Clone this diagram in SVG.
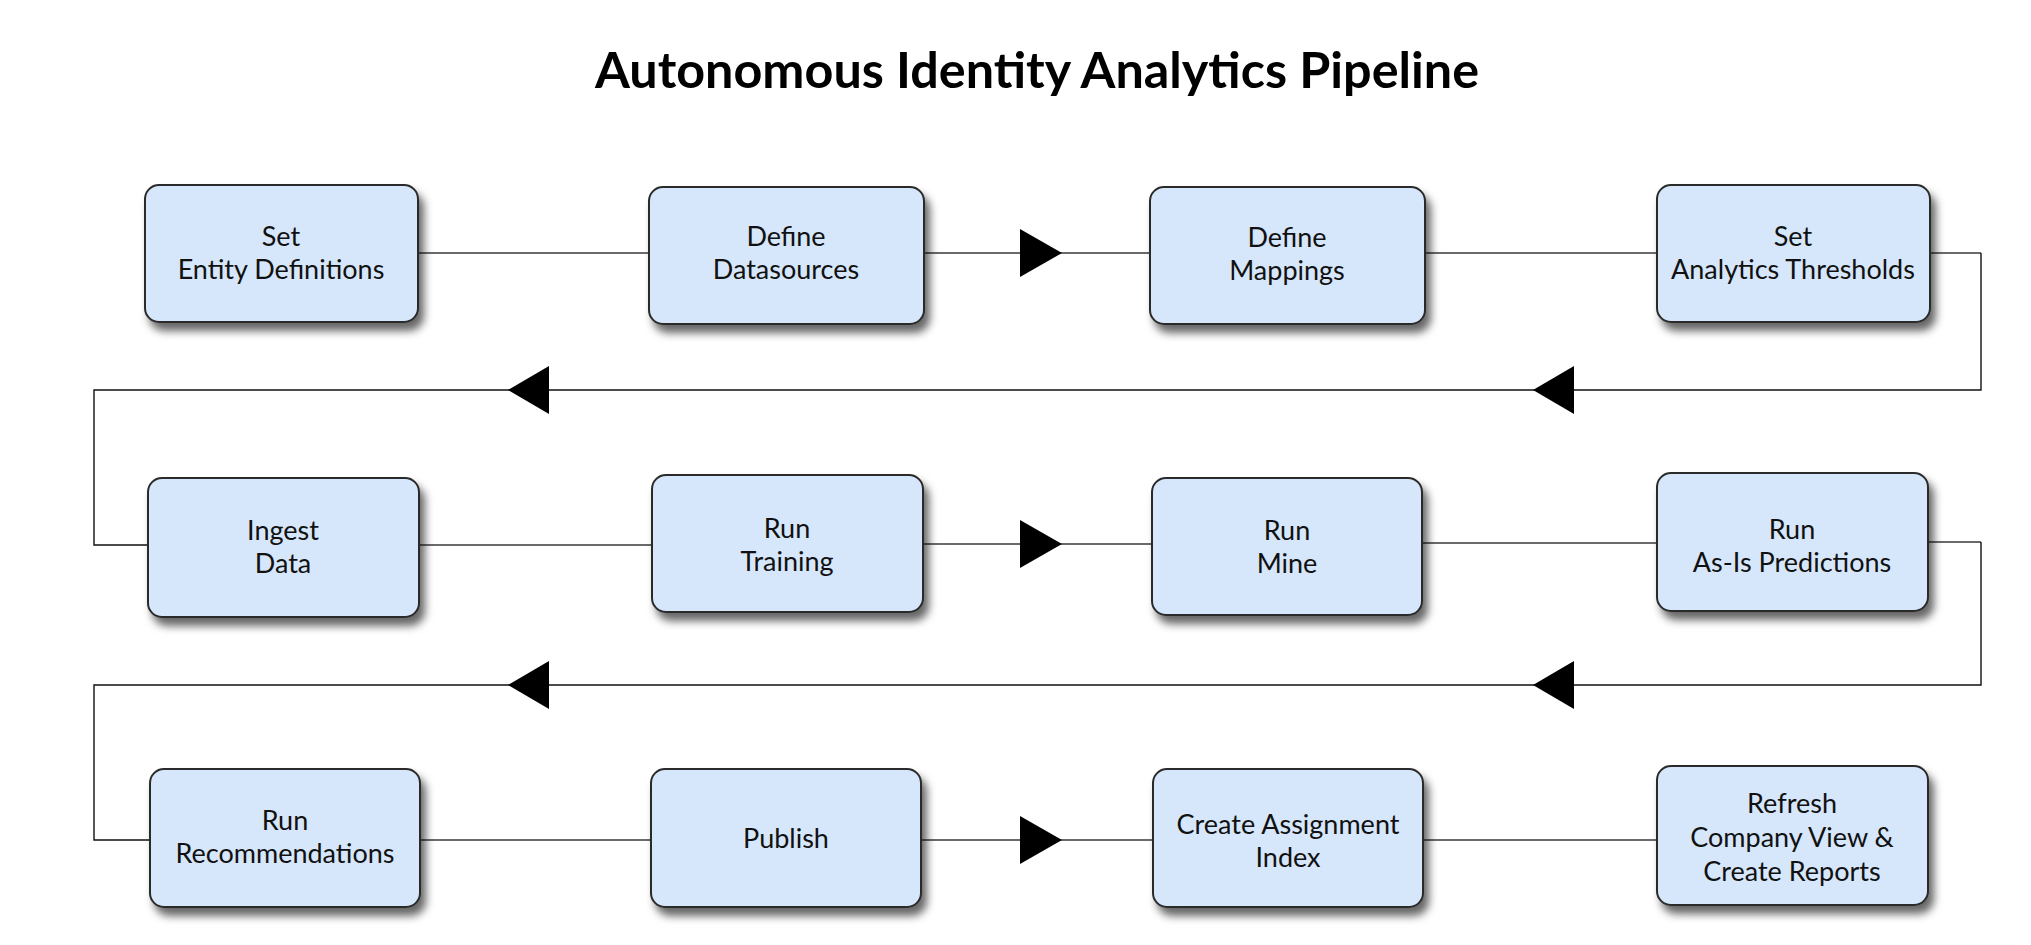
<svg xmlns="http://www.w3.org/2000/svg" xmlns:xlink="http://www.w3.org/1999/xlink" width="2031" height="945" viewBox="0 0 2031 945">
<style>
.node rect{fill:#d6e7fb;stroke:#2b2b2b;stroke-width:2;filter:url(#sh)}
.node text{font-family:Lato,"Liberation Sans",sans-serif;font-size:27px;fill:#111;text-anchor:middle}
.title{font-family:Lato,"Liberation Sans",sans-serif;font-weight:bold;font-size:50px;fill:#000;text-anchor:middle}
.link{fill:none;stroke:#6a6a6a;stroke-width:2}
.ret{fill:none;stroke:#111;stroke-width:1.4}
.ah{fill:#000}
</style>
<defs>
<filter id="sh" x="-10%" y="-10%" width="130%" height="145%">
<feDropShadow dx="5" dy="8" stdDeviation="4" flood-color="#000" flood-opacity="0.6"/>
</filter>
<path id="ar" d="M0,0 L-42,-24 L-42,24 Z"/>
<path id="al" d="M0,0 L41,-24 L41,24 Z"/>
</defs>
<rect width="2031" height="945" fill="#fff"/>
<text class="title" x="1037" y="88" textLength="884" lengthAdjust="spacingAndGlyphs">Autonomous Identity Analytics Pipeline</text>
<g id="connectors">
<path class="link" d="M418,253 H649"/>
<path class="link" d="M924,253 H1150"/>
<path class="link" d="M1425,253 H1657"/>
<path class="link" d="M1930,253 H1981"/>
<path class="ret" d="M1981,253 V390 H94 V545 H148"/>
<path class="link" d="M419,545 H652"/>
<path class="link" d="M923,544 H1152"/>
<path class="link" d="M1422,543 H1657"/>
<path class="link" d="M1928,542 H1981"/>
<path class="ret" d="M1981,542 V685 H94 V840 H150"/>
<path class="link" d="M420,840 H651"/>
<path class="link" d="M921,840 H1153"/>
<path class="link" d="M1423,840 H1657"/>
<use class="ah" xlink:href="#ar" x="1062" y="253"/>
<use class="ah" xlink:href="#ar" x="1062" y="544"/>
<use class="ah" xlink:href="#ar" x="1062" y="840"/>
<use class="ah" xlink:href="#al" x="1533" y="390"/>
<use class="ah" xlink:href="#al" x="508" y="390"/>
<use class="ah" xlink:href="#al" x="1533" y="685"/>
<use class="ah" xlink:href="#al" x="508" y="685"/>
</g>
<g id="n1" class="node"><rect x="145" y="185" width="273" height="137" rx="14"/><text x="281" y="246">Set</text><text x="281" y="279">Entity Definitions</text></g>
<g id="n2" class="node"><rect x="649" y="187" width="275" height="137" rx="14"/><text x="786" y="246">Define</text><text x="786" y="279">Datasources</text></g>
<g id="n3" class="node"><rect x="1150" y="187" width="275" height="137" rx="14"/><text x="1287" y="247">Define</text><text x="1287" y="280">Mappings</text></g>
<g id="n4" class="node"><rect x="1657" y="185" width="273" height="137" rx="14"/><text x="1793" y="246">Set</text><text x="1793" y="279">Analytics Thresholds</text></g>
<g id="n5" class="node"><rect x="148" y="478" width="271" height="139" rx="14"/><text x="283" y="540">Ingest</text><text x="283" y="573">Data</text></g>
<g id="n6" class="node"><rect x="652" y="475" width="271" height="137" rx="14"/><text x="787" y="538">Run</text><text x="787" y="571">Training</text></g>
<g id="n7" class="node"><rect x="1152" y="478" width="270" height="137" rx="14"/><text x="1287" y="540">Run</text><text x="1287" y="573">Mine</text></g>
<g id="n8" class="node"><rect x="1657" y="473" width="271" height="138" rx="14"/><text x="1792" y="539">Run</text><text x="1792" y="572">As-Is Predictions</text></g>
<g id="n9" class="node"><rect x="150" y="769" width="270" height="138" rx="14"/><text x="285" y="830">Run</text><text x="285" y="863">Recommendations</text></g>
<g id="n10" class="node"><rect x="651" y="769" width="270" height="138" rx="14"/><text x="786" y="848">Publish</text></g>
<g id="n11" class="node"><rect x="1153" y="769" width="270" height="138" rx="14"/><text x="1288" y="834">Create Assignment</text><text x="1288" y="867">Index</text></g>
<g id="n12" class="node"><rect x="1657" y="766" width="271" height="139" rx="14"/><text x="1792" y="813">Refresh</text><text x="1792" y="847">Company View &amp;</text><text x="1792" y="881">Create Reports</text></g>
</svg>
